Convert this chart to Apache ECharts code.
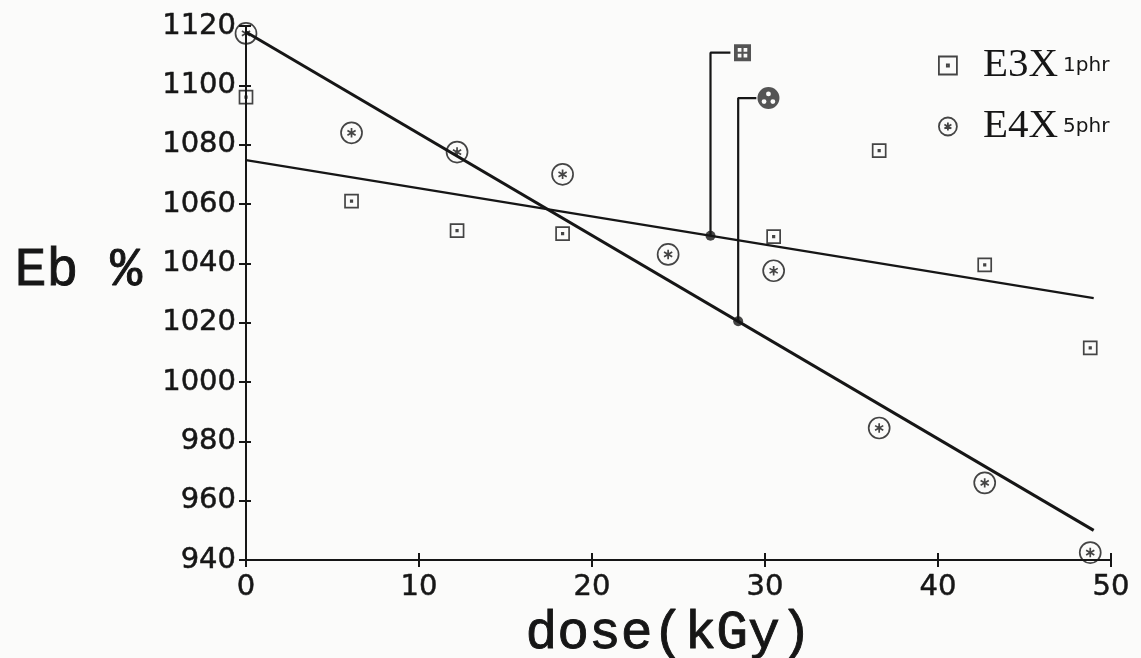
<!DOCTYPE html>
<html><head><meta charset="utf-8">
<script src="https://cdn.jsdelivr.net/npm/echarts@6/dist/echarts.min.js"></script>
<style>html,body{margin:0;padding:0;background:#fbfbfa}#c{width:1141px;height:658px}</style>
</head><body><div id="c"></div>
<script>
// ---- data ----
const seriesNames = ['E3X', 'E4X'];
const seriesSubs = ['1phr', '5phr'];
const xTicks = [0, 10, 20, 30, 40, 50];
const yTicks = [940, 960, 980, 1000, 1020, 1040, 1060, 1080, 1100, 1120];
const e3xPoints = [[0,1096],[6.1,1061],[12.2,1051],[18.3,1050],[30.5,1049],[36.6,1078],[42.7,1039.5],[48.8,1011.5]];
const e4xPoints = [[0,1117.5],[6.1,1084],[12.2,1077.5],[18.3,1070],[24.4,1043],[30.5,1037.5],[36.6,984.5],[42.7,966],[48.8,942.5]];
const e3xFit = [[0,1074.8],[49,1028.3]];
const e4xFit = [[0,1118],[49,950]];
const e3xCallout = [[26.85,1049.3],[26.85,1111],[28.0,1111]];
const e4xCallout = [[28.45,1020.5],[28.45,1095.7],[29.5,1095.7]];
const e3xCalloutMark = [[28.7,1111]];
const e4xCalloutMark = [[30.2,1095.7]];
const calloutDots = [e3xCallout[0], e4xCallout[0]];

// ---- styling ----
const ink = '#161616';
const sqPath = 'path://M0,0H12V12H0Z M5.3,5.3H6.7V6.7H5.3Z';
const cirPath = 'path://M10,0A10,10 0 1,1 10,20A10,10 0 1,1 10,0Z M10,5.5V14.5 M6.1,7.75L13.9,12.25 M6.1,12.25L13.9,7.75';
const sqFilled = 'path://M0,0H16V16H0Z M3.5,3.5V7H7V3.5Z M9,3.5V7H12.5V3.5Z M3.5,9V12.5H7V9Z M9,9V12.5H12.5V9Z';
const cirFilled = 'path://M10,0A10,10 0 1,1 10,20A10,10 0 1,1 10,0Z M10,4A2.2,2.2 0 1,0 10,8.4A2.2,2.2 0 1,0 10,4Z M6,11A2.2,2.2 0 1,0 6,15.4A2.2,2.2 0 1,0 6,11Z M14,11A2.2,2.2 0 1,0 14,15.4A2.2,2.2 0 1,0 14,11Z';
const tickFont = {fontFamily: 'DejaVu Sans', fontSize: 29, color: ink, textBorderColor: ink, textBorderWidth: 0.5};
const nameFont = {fontFamily: 'Liberation Mono', fontSize: 53, color: ink, textBorderColor: ink, textBorderWidth: 0.9};

const chart = echarts.init(document.getElementById('c'));
const axisCommon = {
  type: 'value', splitLine: {show: false},
  axisLine: {show: true, lineStyle: {color: ink, width: 2}}
};
chart.setOption({
  backgroundColor: '#fbfbfa',
  animation: false,
  grid: {left: 246, right: 30, top: 26, bottom: 98, containLabel: false, outerBoundsMode: 'none'},
  xAxis: [
    Object.assign({}, axisCommon, {
      min: xTicks[0], max: xTicks[xTicks.length-1], interval: 10,
      axisTick: {show: true, inside: false, length: 7, lineStyle: {color: ink, width: 2}},
      axisLabel: Object.assign({margin: 13, formatter: v => String(v)}, tickFont),
      name: 'dose(kGy)', nameLocation: 'middle', nameGap: 47,
      nameTextStyle: Object.assign({padding: [0,20,0,0]}, nameFont)
    }),
    Object.assign({}, axisCommon, {
      position: 'bottom', min: xTicks[0], max: xTicks[xTicks.length-1], interval: 10,
      axisLine: {show: false},
      axisTick: {show: true, inside: true, length: 7, lineStyle: {color: ink, width: 2}},
      axisLabel: {show: false}
    })
  ],
  yAxis: [
    Object.assign({}, axisCommon, {
      min: yTicks[0], max: yTicks[yTicks.length-1], interval: 20,
      axisTick: {show: true, inside: false, length: 7, lineStyle: {color: ink, width: 2}},
      axisLabel: Object.assign({margin: 10, formatter: v => String(v)}, tickFont),
      name: 'Eb %', nameLocation: 'middle', nameRotate: 0, nameGap: 104,
      nameTextStyle: Object.assign({verticalAlign: 'bottom', lineHeight: 44}, nameFont)
    }),
    Object.assign({}, axisCommon, {
      position: 'left', min: yTicks[0], max: yTicks[yTicks.length-1], interval: 20,
      axisLine: {show: false},
      axisTick: {show: true, inside: true, length: 5, lineStyle: {color: ink, width: 2}},
      axisLabel: {show: false}
    })
  ],
  legend: {
    orient: 'vertical', left: 933, top: 40, itemGap: 20,
    itemWidth: 18, itemHeight: 18,
    data: [{name: seriesNames[0], icon: sqPath}, {name: seriesNames[1], icon: cirPath}],
    itemStyle: {color: 'rgba(0,0,0,0)', borderColor: ink, borderWidth: 1.8},
    formatter: n => `{a|${n}}{b|${seriesSubs[seriesNames.indexOf(n)]}}`,
    textStyle: {rich: {
      a: {fontFamily: 'Liberation Serif', fontSize: 41, color: ink, lineHeight: 46, padding: [0,0,0,21]},
      b: {fontFamily: 'DejaVu Sans', fontSize: 20, color: ink, padding: [0,0,0,5]}
    }}
  },
  series: [
    {type: 'line', data: e3xFit, symbol: 'none', lineStyle: {color: ink, width: 2.2}, silent: true},
    {type: 'line', data: e4xFit, symbol: 'none', lineStyle: {color: ink, width: 3}, silent: true},
    {type: 'line', data: e3xCallout, symbol: 'none', lineStyle: {color: ink, width: 2.2}, silent: true},
    {type: 'line', data: e4xCallout, symbol: 'none', lineStyle: {color: ink, width: 2.2}, silent: true},
    {name: seriesNames[0], type: 'scatter', data: e3xPoints, symbol: sqPath, symbolSize: 13, clip: false,
     itemStyle: {color: 'rgba(0,0,0,0)', borderColor: ink, borderWidth: 1.7}},
    {name: seriesNames[1], type: 'scatter', data: e4xPoints, symbol: cirPath, symbolSize: 21, clip: false,
     itemStyle: {color: 'rgba(0,0,0,0)', borderColor: ink, borderWidth: 1.7}},
    {type: 'scatter', data: e3xCalloutMark, symbol: sqFilled, symbolSize: 17, itemStyle: {color: '#2a2a2a'}, clip: false},
    {type: 'scatter', data: e4xCalloutMark, symbol: cirFilled, symbolSize: 22, itemStyle: {color: '#2a2a2a'}, clip: false},
    {type: 'scatter', data: calloutDots, symbol: 'circle', symbolSize: 10, itemStyle: {color: ink}}
  ]
});
</script></body></html>
